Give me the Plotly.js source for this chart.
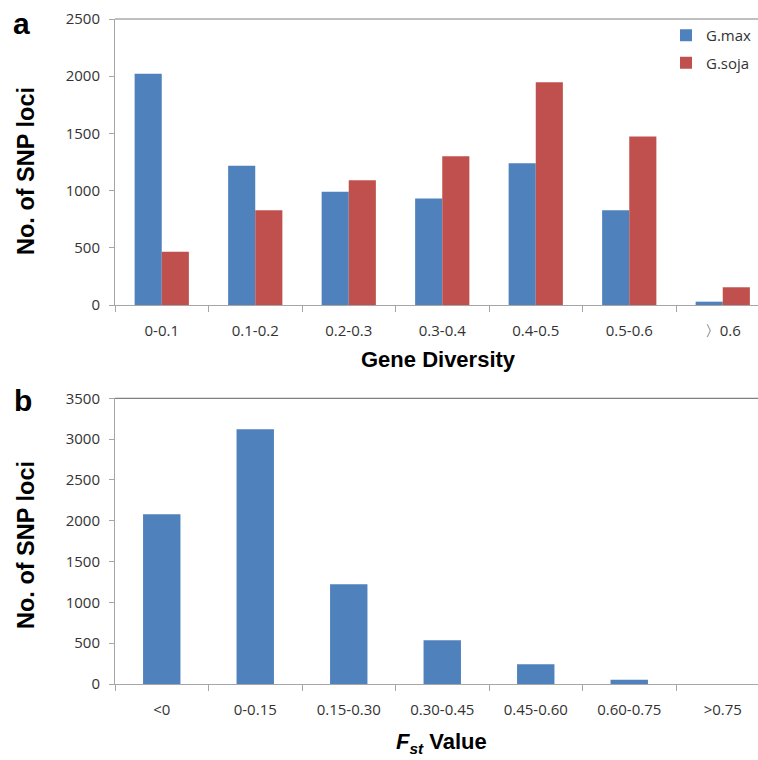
<!DOCTYPE html>
<html>
<head>
<meta charset="utf-8">
<script src="https://cdn.plot.ly/plotly-3.0.1.min.js"></script>
<style>html,body{margin:0;padding:0;background:#fff;}#chart{width:758px;height:760px;}</style>
</head>
<body>
<div id="chart"></div>
<script>
// Panel a: gene diversity
const diversityBins = ["0-0.1", "0.1-0.2", "0.2-0.3", "0.3-0.4", "0.4-0.5", "0.5-0.6", "〉0.6"];
const gmaxCounts = [2022, 1218, 991, 930, 1239, 828, 29];
const gsojaCounts = [466, 828, 1090, 1300, 1947, 1472, 155];
const seriesNames = ["G.max", "G.soja"];

// Panel b: Fst
const fstBins = ["<0", "0-0.15", "0.15-0.30", "0.30-0.45", "0.45-0.60", "0.60-0.75", ">0.75"];
const fstCounts = [2079, 3120, 1221, 535, 241, 53, 0];

const W = 758, H = 760, L = 115;
const px = x => (x - L) / (W - L);
const py = y => 1 - y / H;

const blue = "#4F81BD", red = "#C0504D";
const tickFont = {family: "Open Sans, Liberation Sans, sans-serif", size: 15, color: "#333333"};
const boldFont = (s) => ({family: "Liberation Sans, Arial, sans-serif", size: s, color: "#000", weight: 700});

const traces = [
  {type: "bar", x: diversityBins, y: gmaxCounts, name: seriesNames[0], marker: {color: blue}, xaxis: "x", yaxis: "y", legendgroup: "a1"},
  {type: "bar", x: diversityBins, y: gsojaCounts, name: seriesNames[1], marker: {color: red}, xaxis: "x", yaxis: "y", legendgroup: "a2"},
  {type: "bar", x: fstBins, y: fstCounts, name: "Fst", marker: {color: blue}, xaxis: "x2", yaxis: "y2", width: 0.4, showlegend: false}
];

const xr = [-0.5, -0.5 + (W - L) / 93.5];
const xCommon = {
  type: "category", range: xr, showline: true, linecolor: "#a6a6a6", linewidth: 1,
  ticks: "outside", ticklen: 6, tickcolor: "#a6a6a6", tickson: "boundaries",
  showgrid: false, zeroline: false, tickfont: tickFont, fixedrange: true, ticklabelstandoff: 12
};
const yCommon = {
  showline: true, linecolor: "#a6a6a6", linewidth: 1, ticks: "outside", ticklen: 5,
  tickcolor: "#a6a6a6", showgrid: false, zeroline: false, tickfont: tickFont, dtick: 500, fixedrange: true,
  ticklabelstandoff: 6
};

const layout = {
  width: W, height: H,
  margin: {l: L, r: 0, t: 0, b: 0},
  paper_bgcolor: "#fff", plot_bgcolor: "#fff",
  barmode: "group", bargap: 0.42, bargroupgap: 0,
  xaxis: Object.assign({}, xCommon, {anchor: "y", domain: [0, 1]}),
  yaxis: Object.assign({}, yCommon, {anchor: "x", domain: [py(305), py(19)], range: [0, 2500]}),
  xaxis2: Object.assign({}, xCommon, {anchor: "y2", domain: [0, 1]}),
  yaxis2: Object.assign({}, yCommon, {anchor: "x2", domain: [py(684), py(398.3)], range: [0, 3500]}),
  showlegend: true,
  legend: {
    x: px(666), y: py(19), xanchor: "left", yanchor: "top",
    font: {family: "Open Sans, Liberation Sans, sans-serif", size: 15, color: "#333333"},
    traceorder: "grouped", tracegroupgap: 5, bgcolor: "rgba(0,0,0,0)", itemwidth: 30
  },
  shapes: [
    {type: "line", xref: "paper", yref: "paper", x0: 0, x1: 1, y0: py(19), y1: py(19), line: {color: "#808080", width: 1.2}},
    {type: "line", xref: "paper", yref: "paper", x0: 0, x1: 1, y0: py(398.3), y1: py(398.3), line: {color: "#808080", width: 1.2}}
  ],
  annotations: [
    {text: "a", x: px(22), y: py(24), xref: "paper", yref: "paper", showarrow: false, font: boldFont(30), xanchor: "center", yanchor: "middle"},
    {text: "b", x: px(23), y: py(400), xref: "paper", yref: "paper", showarrow: false, font: boldFont(30), xanchor: "center", yanchor: "middle"},
    {text: "No. of SNP loci", x: px(26), y: py(171), xref: "paper", yref: "paper", showarrow: false, textangle: -90, font: boldFont(23.5), xanchor: "center", yanchor: "middle"},
    {text: "No. of SNP loci", x: px(26), y: py(545), xref: "paper", yref: "paper", showarrow: false, textangle: -90, font: boldFont(23.5), xanchor: "center", yanchor: "middle"},
    {text: "Gene Diversity", x: px(438), y: py(360), xref: "paper", yref: "paper", showarrow: false, font: boldFont(22), xanchor: "center", yanchor: "middle"},
    {text: "<i>F<sub>st</sub></i> Value", x: px(441), y: py(743), xref: "paper", yref: "paper", showarrow: false, font: boldFont(22), xanchor: "center", yanchor: "middle"}
  ]
};

Plotly.newPlot("chart", traces, layout, {displayModeBar: false, staticPlot: true});
</script>
</body>
</html>
